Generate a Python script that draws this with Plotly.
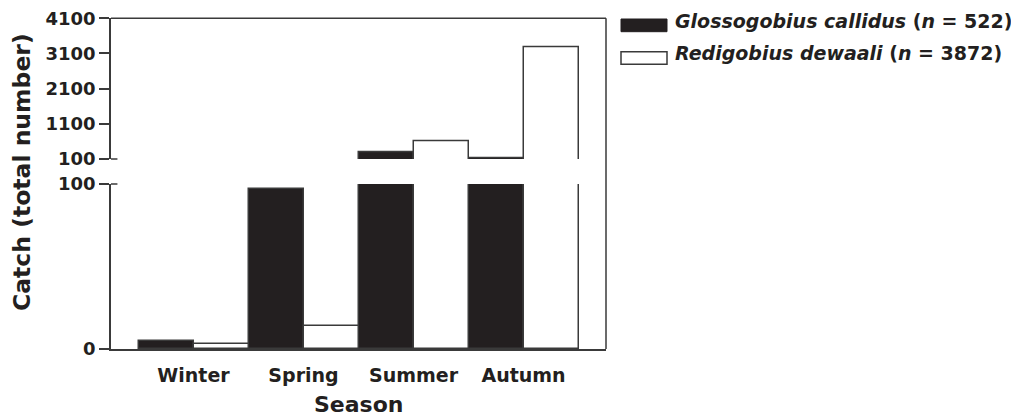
import plotly.graph_objects as go

# ---- data ----
seasons = ["Winter", "Spring", "Summer", "Autumn"]
callidus = [5, 97, 300, 120]
dewaali = [3, 14, 590, 3265]
series_names = ["Glossogobius callidus", "Redigobius dewaali"]
series_n = [522, 3872]
lower_ticks = [0, 100]
upper_ticks = [100, 1100, 2100, 3100, 4100]
BREAK = 100

# ---- styling ----
W, H = 1019, 417
OFF = 8  # page body margin
FONT = "DejaVu Sans"
INK = "#231F20"
LINE = "#3a3a3a"


def fx(p):
    return (p - OFF) / W


def fy(p):
    return 1 - (p - OFF) / H


x_dom = [fx(111), fx(606)]
low_dom = [fy(349), fy(184)]
up_dom = [fy(159), fy(18.3)]

fig = go.Figure()
fills = [INK, "white"]
values = [callidus, dewaali]
for xa, ya, upper in (("x", "y", False), ("x2", "y2", True)):
    for name, vals, fill in zip(series_names, values, fills):
        yv = [v if (v > BREAK or not upper) else None for v in vals]
        fig.add_trace(go.Bar(
            x=seasons, y=yv, name=name, xaxis=xa, yaxis=ya,
            marker=dict(color=fill, line=dict(color=LINE, width=1.5)),
            showlegend=False, hoverinfo="x+y+name",
        ))

tickfont = dict(family=FONT, size=18, color=INK, weight="bold")
yax_common = dict(
    showline=True, linecolor=LINE, linewidth=1.5, ticks="outside",
    ticklen=10, tickwidth=1.5, tickcolor=LINE, showgrid=False,
    zeroline=False, tickfont=tickfont, fixedrange=True, automargin=False,
    ticklabeloverflow="allow",
)

fig.update_layout(
    width=W, height=H, autosize=False,
    margin=dict(l=0, r=0, t=0, b=0, pad=0, autoexpand=False),
    paper_bgcolor="white", plot_bgcolor="white",
    barmode="group", bargap=0, bargroupgap=0,
    xaxis=dict(
        domain=x_dom, anchor="y", type="category",
        categoryorder="array", categoryarray=seasons,
        range=[-0.75, 3.75], showline=True, linecolor=LINE, linewidth=1.5,
        ticks="", showgrid=False, zeroline=False, fixedrange=True,
        tickfont=dict(family=FONT, size=19, color=INK, weight="bold"),
        ticklabelstandoff=8, automargin=False, ticklabeloverflow="allow",
    ),
    xaxis2=dict(
        domain=x_dom, anchor="y2", matches="x", type="category",
        showticklabels=False, showline=False, ticks="", showgrid=False,
        zeroline=False, fixedrange=True, automargin=False,
    ),
    yaxis=dict(domain=low_dom, anchor="x", range=[0, BREAK],
               tickvals=lower_ticks, ticktext=[str(v) for v in lower_ticks],
               **yax_common),
    yaxis2=dict(domain=up_dom, anchor="x2", range=[BREAK, 4100],
                tickvals=upper_ticks, ticktext=[str(v) for v in upper_ticks],
                **yax_common),
)

shapes = []
# frame: top and right borders
shapes.append(dict(type="line", xref="x domain", yref="paper",
                   x0=0, x1=1, y0=up_dom[1], y1=up_dom[1],
                   line=dict(color=LINE, width=1.5)))
shapes.append(dict(type="line", xref="x domain", yref="paper",
                   x0=1, x1=1, y0=low_dom[0], y1=up_dom[1],
                   line=dict(color=LINE, width=1.5)))
# break marks (ticks extend inside at the break)
for yref, yv in (("y domain", 1), ("y2 domain", 0)):
    shapes.append(dict(type="line", xref="x domain", yref=yref,
                       x0=0, x1=0.013, y0=yv, y1=yv,
                       line=dict(color=LINE, width=1.5)))
# legend swatches
shapes.append(dict(type="rect", xref="paper", yref="paper",
                   x0=fx(621), x1=fx(667), y0=fy(31.7), y1=fy(19),
                   fillcolor=INK, line=dict(color=INK, width=1)))
shapes.append(dict(type="rect", xref="paper", yref="paper",
                   x0=fx(621), x1=fx(667), y0=fy(64.3), y1=fy(51.7),
                   fillcolor="white", line=dict(color=LINE, width=1.5)))
fig.update_layout(shapes=shapes)

annotations = [
    dict(text="Catch (total number)", textangle=-90, xref="paper", yref="paper",
         x=fx(22), y=fy(172), xanchor="center", yanchor="middle", showarrow=False,
         font=dict(family=FONT, size=23.5, color=INK, weight="bold")),
    dict(text="Season", xref="x domain", yref="paper", x=0.5, y=fy(404),
         xanchor="center", yanchor="middle", showarrow=False,
         font=dict(family=FONT, size=22, color=INK, weight="bold")),
]
legend_y = [21, 53]
for name, n, yy in zip(series_names, series_n, legend_y):
    annotations.append(dict(
        text=f"<i>{name}</i> (<i>n</i> = {n})", xref="paper", yref="paper",
        x=fx(673), y=fy(yy), xanchor="left", yanchor="middle", showarrow=False,
        font=dict(family=FONT, size=19, color=INK, weight="bold")))
fig.update_layout(annotations=annotations)

fig.write_html("out.html")
